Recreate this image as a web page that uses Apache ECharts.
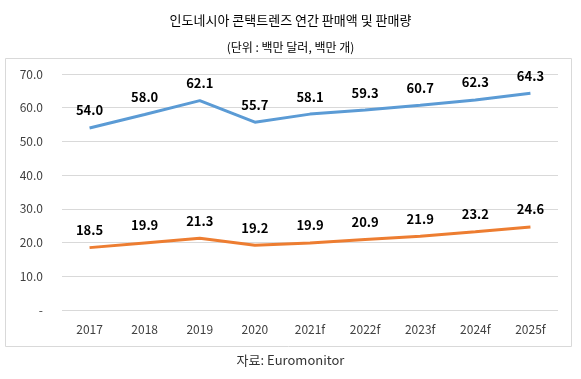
<!DOCTYPE html>
<html><head><meta charset="utf-8">
<script src="https://cdn.jsdelivr.net/npm/echarts@6/dist/echarts.min.js"></script>
<style>html,body{margin:0;padding:0;background:#fff}#c{width:581px;height:379px}</style>
</head><body><div id="c"></div>
<script>
const categories = ['2017','2018','2019','2020','2021f','2022f','2023f','2024f','2025f'];
const salesValue = [54.0, 58.0, 62.1, 55.7, 58.1, 59.3, 60.7, 62.3, 64.3];
const salesVolume = [18.5, 19.9, 21.3, 19.2, 19.9, 20.9, 21.9, 23.2, 24.6];
const titleText = '인도네시아 콘택트렌즈 연간 판매액 및 판매량';
const subtitleText = '(단위 : 백만 달러, 백만 개)';
const sourceText = '자료: Euromonitor';
const font = '"Noto Sans CJK KR", "Noto Sans", sans-serif';

const chart = echarts.init(document.getElementById('c'));
const labelStyle = {show: true, position: 'top', distance: 11, fontFamily: font, fontSize: 13, fontWeight: 'bold', color: '#000',
  formatter: p => p.value.toFixed(1)};
chart.setOption({
  animation: false,
  textStyle: {fontFamily: font},
  title: [
    {text: titleText, left: 'center', top: 9, textStyle: {fontFamily: font, fontSize: 13, fontWeight: 'normal', color: '#000'}},
    {text: subtitleText, left: 'center', top: 36, textStyle: {fontFamily: font, fontSize: 12, fontWeight: 'normal', color: '#000'}},
    {text: sourceText, left: 'center', top: 349, textStyle: {fontFamily: font, fontSize: 13, fontWeight: 'normal', color: '#333'}}
  ],
  graphic: [{type: 'rect', shape: {x: 5.5, y: 58.5, width: 566, height: 288}, style: {fill: 'none', stroke: '#d9d9d9', lineWidth: 1}, silent: true, z: -1}],
  grid: {left: 62, right: 23, top: 74, bottom: 69},
  xAxis: {type: 'category', data: categories, boundaryGap: true,
    axisLine: {show: false}, axisTick: {show: false},
    axisLabel: {fontFamily: font, fontSize: 12, color: '#404040', margin: 13}},
  yAxis: {type: 'value', min: 0, max: 70, interval: 10,
    axisLine: {show: false}, axisTick: {show: false},
    splitLine: {lineStyle: {color: '#d9d9d9', width: 1}},
    axisLabel: {fontFamily: font, fontSize: 12, color: '#404040', margin: 19,
      formatter: v => v === 0 ? '-' : v.toFixed(1)}},
  series: [
    {type: 'line', data: salesValue, showSymbol: true, symbol: 'circle', symbolSize: 0.01, lineStyle: {color: '#5B9BD5', width: 3}, itemStyle: {color: '#5B9BD5'}, label: labelStyle},
    {type: 'line', data: salesVolume, showSymbol: true, symbol: 'circle', symbolSize: 0.01, lineStyle: {color: '#ED7D31', width: 3}, itemStyle: {color: '#ED7D31'}, label: labelStyle}
  ]
});
</script></body></html>
